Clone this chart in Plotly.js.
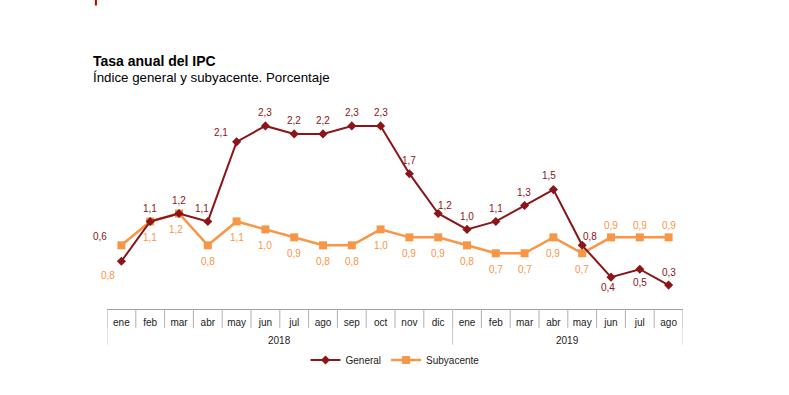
<!DOCTYPE html>
<html>
<head>
<meta charset="utf-8">
<script src="https://cdn.plot.ly/plotly-3.0.1.min.js"></script>
<style>html,body{margin:0;padding:0;background:#fff;}#chart{width:789px;height:395px;}</style>
</head>
<body>
<div id="chart"></div>
<script>
// ---- data ----
const months = ["ene","feb","mar","abr","may","jun","jul","ago","sep","oct","nov","dic",
                "ene","feb","mar","abr","may","jun","jul","ago"];
const years = ["2018","2018","2018","2018","2018","2018","2018","2018","2018","2018","2018","2018",
               "2019","2019","2019","2019","2019","2019","2019","2019"];
const yearLabels = ["2018","2019"];
const general = [0.6,1.1,1.2,1.1,2.1,2.3,2.2,2.2,2.3,2.3,1.7,1.2,1.0,1.1,1.3,1.5,0.8,0.4,0.5,0.3];
const subyacente = [0.8,1.1,1.2,0.8,1.1,1.0,0.9,0.8,0.8,1.0,0.9,0.9,0.8,0.7,0.7,0.9,0.7,0.9,0.9,0.9];
const seriesNames = ["General","Subyacente"];

// ---- derived ----
const cats = months.map((m,i)=>m+" "+years[i]);
const fmt = v => v.toFixed(1).replace('.',',');
const colG = "#8B1518", colS = "#F79646";
const FONT = "Liberation Sans, Arial, sans-serif";

// label offsets (style only)
function offG(i){
  const special = {0:[-21,25], 3:[-6,13], 4:[-16,9], 11:[7,8], 14:[-1,13], 15:[-4,14], 16:[8,9], 17:[-3,-10], 18:[0,-13]};
  return special[i] || [0,13];
}
function offS(i){
  const special = {0:[-13,-30], 2:[-3,-16]};
  if (special[i]) return special[i];
  if (i>=17) return [0,12];
  return [0,-16];
}

const traces = [
  {x:cats, y:subyacente, name:seriesNames[1], type:"scatter", mode:"lines+markers",
   line:{color:colS, width:2.5}, marker:{symbol:"square", size:8, color:colS}, hoverinfo:"skip"},
  {x:cats, y:general, name:seriesNames[0], type:"scatter", mode:"lines+markers",
   line:{color:colG, width:2}, marker:{symbol:"diamond", size:7, color:colG}, hoverinfo:"skip"}
];

const shapes = [];
for (let i=0;i<=cats.length;i++){
  shapes.push({type:"line", xref:"x", yref:"paper", x0:i-0.5, x1:i-0.5, y0:0, y1:-0.095,
               line:{color:"#b0b0b0", width:1}});
}
const yearBounds = [-0.5];
for (let i=1;i<years.length;i++){ if (years[i]!==years[i-1]) yearBounds.push(i-0.5); }
yearBounds.push(years.length-0.5);
yearBounds.forEach(b=>shapes.push({type:"line", xref:"x", yref:"paper", x0:b, x1:b, y0:0, y1:-0.18,
               line:{color:"#c8c8c8", width:1}}));
shapes.push({type:"rect", xref:"paper", yref:"paper", x0:-0.021, x1:-0.0175, y0:1.525, y1:1.56,
             fillcolor:"#c00000", line:{width:0}});

const annotations = [];
yearLabels.forEach(yl=>{
  const idx = years.map((y,i)=>y===yl?i:-1).filter(i=>i>=0);
  const c = (idx[0]+idx[idx.length-1])/2;
  annotations.push({xref:"x", yref:"paper", x:c, y:-0.158, yanchor:"middle", text:yl, showarrow:false,
    font:{family:FONT, size:10, color:"#222"}});
});
general.forEach((v,i)=>{
  const o = offG(i);
  annotations.push({xref:"x", yref:"y", x:cats[i], y:v, text:fmt(v), showarrow:false,
    xshift:o[0], yshift:o[1], font:{family:FONT, size:10, color:colG}});
});
subyacente.forEach((v,i)=>{
  const o = offS(i);
  annotations.push({xref:"x", yref:"y", x:cats[i], y:v, text:fmt(v), showarrow:false,
    xshift:o[0], yshift:o[1], font:{family:FONT, size:10, color:colS}});
});
annotations.push({xref:"paper", yref:"paper", x:-0.0236, y:1.245, xanchor:"left", yanchor:"middle",
  xshift:-2, text:"<b>Tasa anual del IPC</b>", showarrow:false,
  font:{family:FONT, size:14, color:"#000"}});
annotations.push({xref:"paper", yref:"paper", x:-0.0236, y:1.165, xanchor:"left", yanchor:"middle",
  xshift:-2, text:"Índice general y subyacente. Porcentaje", showarrow:false,
  font:{family:FONT, size:13.3, color:"#000"}});

const layout = {
  width:789, height:395,
  margin:{l:106.6, r:105.6, t:110, b:86},
  paper_bgcolor:"#fff", plot_bgcolor:"#fff",
  showlegend:true,
  legend:{orientation:"h", x:0.5, xanchor:"center", y:-0.256, yanchor:"middle",
          font:{family:FONT, size:10, color:"#222"}, traceorder:"reversed", itemwidth:30},
  xaxis:{type:"category", tickvals:cats, ticktext:months, range:[-0.5, cats.length-0.5],
         showline:true, linecolor:"#a0a0a0", linewidth:1, ticks:"", showgrid:false, zeroline:false,
         ticklabelstandoff:4,
         tickfont:{family:FONT, size:10, color:"#222"}, fixedrange:true},
  yaxis:{range:[0,2.5], showticklabels:false, showgrid:false, zeroline:false, showline:false, ticks:"", fixedrange:true},
  shapes:shapes, annotations:annotations
};

Plotly.newPlot("chart", traces, layout, {displayModeBar:false, staticPlot:true});
</script>
</body>
</html>
